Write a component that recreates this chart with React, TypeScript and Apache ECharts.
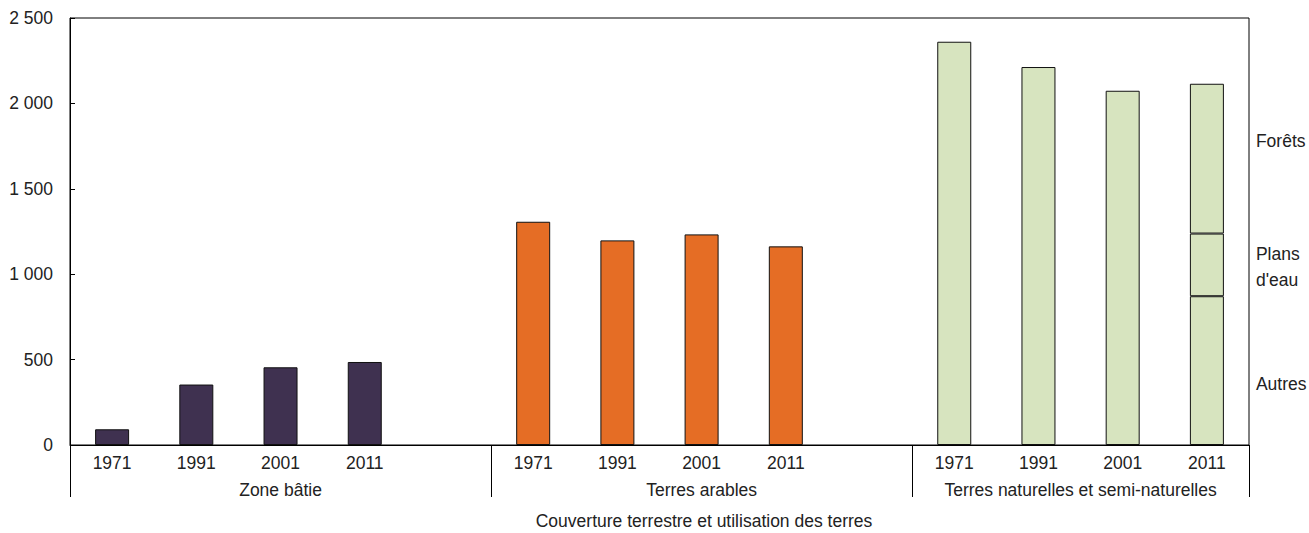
import React, { useEffect, useRef } from "react";
import * as echarts from "echarts";

const years = ["1971", "1991", "2001", "2011"];
const groups = ["Zone bâtie", "Terres arables", "Terres naturelles et semi-naturelles"];
const zoneBatie = [92, 354, 455, 486];
const terresArables = [1307, 1198, 1233, 1163];
const terresNaturelles = [2361, 2213, 2074]; // totals 1971-2001
const autres2011 = 871;
const plansDeau2011 = 367;
const forets2011 = 877;
const yTicks = [0, 500, 1000, 1500, 2000, 2500];
const xTitle = "Couverture terrestre et utilisation des terres";

const FONT = "'Liberation Sans', Arial, sans-serif";
const FS = 17.5;

export default function App() {
  const ref = useRef<HTMLDivElement>(null);
  useEffect(() => {
    if (!ref.current) return;
    const chart = echarts.init(ref.current, undefined, { renderer: "svg" });
    const categories = [...years, "", ...years, "", ...years];
    const n = categories.length;
    const empty = () => new Array(n).fill(null);

    const zone = empty();
    zoneBatie.forEach((v, i) => (zone[i] = v));
    const arables = empty();
    terresArables.forEach((v, i) => (arables[5 + i] = v));
    const nat: any[] = empty();
    terresNaturelles.forEach((v, i) => (nat[10 + i] = v));
    const sideLabel = (text: string, offsetY: number) => ({
      show: true,
      position: "right",
      distance: 32,
      offset: [0, offsetY],
      formatter: text,
      color: "#222",
      fontFamily: FONT,
      fontSize: FS,
      lineHeight: 26,
      align: "left",
    });
    nat[13] = { value: autres2011, label: sideLabel("Autres", 13) };
    const plans: any[] = empty();
    plans[13] = { value: plansDeau2011, label: sideLabel("Plans\nd'eau", 2) };
    const forets: any[] = empty();
    forets[13] = { value: forets2011, label: sideLabel("Forêts", -18) };

    const barStyle = (color: string) => ({ color, borderColor: "#111", borderWidth: 1 });
    const green = "#d7e4bf";
    const mk = (name: string, data: any[], color: string) => ({
      name,
      type: "bar",
      stack: "all",
      data,
      barWidth: 34,
      itemStyle: barStyle(color),
      silent: true,
    });

    const groupCenters = [2.5, 7.5, 12];
    chart.setOption({
      animation: false,
      textStyle: { fontFamily: FONT },
      grid: { left: 70, right: 60, top: 18, bottom: 88, show: true, borderColor: "#000", borderWidth: 1, backgroundColor: "transparent" },
      xAxis: [
        {
          type: "category",
          data: categories,
          position: "bottom",
          axisLine: { show: true, lineStyle: { color: "#000", width: 1 } },
          axisTick: { show: false },
          axisLabel: { color: "#222", fontFamily: FONT, fontSize: FS, margin: 9, interval: 0 },
        },
        {
          type: "value",
          min: 0,
          max: n,
          position: "bottom",
          axisLine: { show: false },
          splitLine: { show: false },
          axisTick: { show: true, inside: false, length: 52, lineStyle: { color: "#000", width: 1 }, customValues: [0, 5, 10, n] },
          axisLabel: {
            show: true,
            color: "#222",
            fontFamily: FONT,
            fontSize: FS,
            margin: 36,
            customValues: groupCenters,
            formatter: (v: number) => {
              const i = groupCenters.indexOf(v);
              return i >= 0 ? groups[i] : "";
            },
          },
        },
      ],
      yAxis: {
        type: "value",
        min: 0,
        max: 2500,
        interval: 500,
        axisLine: { show: true, lineStyle: { color: "#000", width: 1 } },
        axisTick: { show: true, inside: true, length: 5, lineStyle: { color: "#000" } },
        splitLine: { show: false },
        axisLabel: {
          color: "#222",
          fontFamily: FONT,
          fontSize: FS,
          margin: 17,
          customValues: yTicks,
          formatter: (v: number) => String(v).replace(/\B(?=(\d{3})+(?!\d))/g, " "),
        },
      },
      series: [
        mk("Zone bâtie", zone, "#3f3150"),
        mk("Terres arables", arables, "#e56d25"),
        mk("Terres naturelles et semi-naturelles", nat, green),
        mk("Plans d'eau", plans, green),
        mk("Forêts", forets, green),
      ],
      graphic: [
        {
          type: "text",
          x: 704,
          y: 521,
          style: { text: xTitle, fill: "#222", font: `${FS}px ${FONT}`, textAlign: "center", textVerticalAlign: "middle" },
        },
      ],
    });
    return () => chart.dispose();
  }, []);
  return <div ref={ref} style={{ position: "fixed", left: 0, top: 0, width: 1309, height: 533, background: "#fff" }} />;
}
